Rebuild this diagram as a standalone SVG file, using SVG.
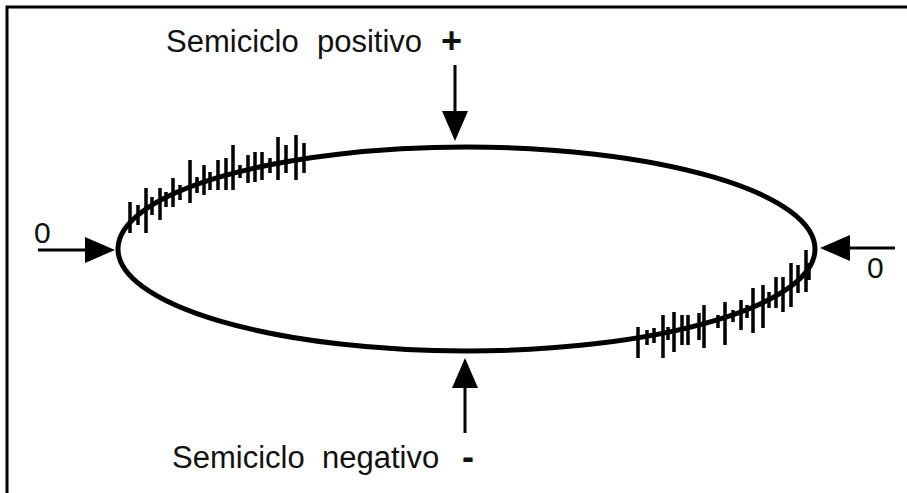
<svg xmlns="http://www.w3.org/2000/svg" width="907" height="493" viewBox="0 0 907 493">
<style>
.lbl{font-family:"Liberation Sans",Arial,sans-serif;font-size:31px;fill:#111}
.sign{font-family:"Liberation Sans",Arial,sans-serif;font-size:36px;font-weight:bold;fill:#111}
.zero{font-family:"Liberation Sans",Arial,sans-serif;font-size:30px;fill:#111}
.conn{stroke:#000;stroke-width:3;fill:none}
.tick{stroke:#000;stroke-width:3.5;fill:none}
</style>
<defs>
<marker id="ah" markerUnits="userSpaceOnUse" markerWidth="30" markerHeight="26" refX="20" refY="13" orient="auto">
<path d="M0,0 L30,13 L0,26 Z" fill="#000"/>
</marker>
</defs>
<rect width="907" height="493" fill="#fff"/>
<path d="M7,493 V7 H907" stroke="#000" stroke-width="3" fill="none"/>
<g id="ellipse">
<ellipse cx="466.5" cy="249" rx="348.5" ry="102" fill="none" stroke="#000" stroke-width="5"/>
</g>
<g id="ticks-upper">
<path class="tick" d="M130,202V233 M138,205V225 M146,188V233 M152,197V215 M160,188V220 M166,192V207 M173,178V207 M180,185V200 M190,160V203 M197,177V193 M204,165V195 M210,172V190 M218,160V190 M226,158V190 M233,145V190 M240,165V178 M248,155V183 M255,152V182 M262,152V180 M270,158V173 M278,137V180 M286,145V173 M296,135V180 M304,143V173"/>
</g>
<g id="ticks-lower">
<path class="tick" d="M638,327V358 M647,330V345 M654,328V343 M663,315V358 M668,327V340 M674,312V352 M682,315V345 M688,315V345 M699,313V340 M704,305V348 M718,315V328 M725,302V345 M733,310V322 M741,300V330 M747,305V318 M753,288V333 M763,285V328 M769,292V308 M776,277V308 M783,277V312 M791,263V307 M798,265V293 M806,250V292 M809,263V280"/>
</g>
<g id="label-positivo">
<text class="lbl" x="166" y="52">Semiciclo</text>
<text class="lbl" x="317" y="52">positivo</text>
<text class="sign" x="441" y="53">+</text>
</g>
<g id="label-negativo">
<text class="lbl" x="172" y="468">Semiciclo</text>
<text class="lbl" x="322" y="468">negativo</text>
<text class="sign" x="462" y="469">-</text>
</g>
<g id="label-zero-left"><text class="zero" x="34" y="243">0</text></g>
<g id="label-zero-right"><text class="zero" x="867" y="278">0</text></g>
<g id="connectors">
<line class="conn" x1="455" y1="65" x2="455" y2="131" marker-end="url(#ah)"/>
<line class="conn" x1="465" y1="433" x2="465" y2="368" marker-end="url(#ah)"/>
<line class="conn" x1="38" y1="250" x2="105" y2="250" marker-end="url(#ah)"/>
<line class="conn" x1="895" y1="248" x2="830" y2="248" marker-end="url(#ah)"/>
</g>
</svg>
